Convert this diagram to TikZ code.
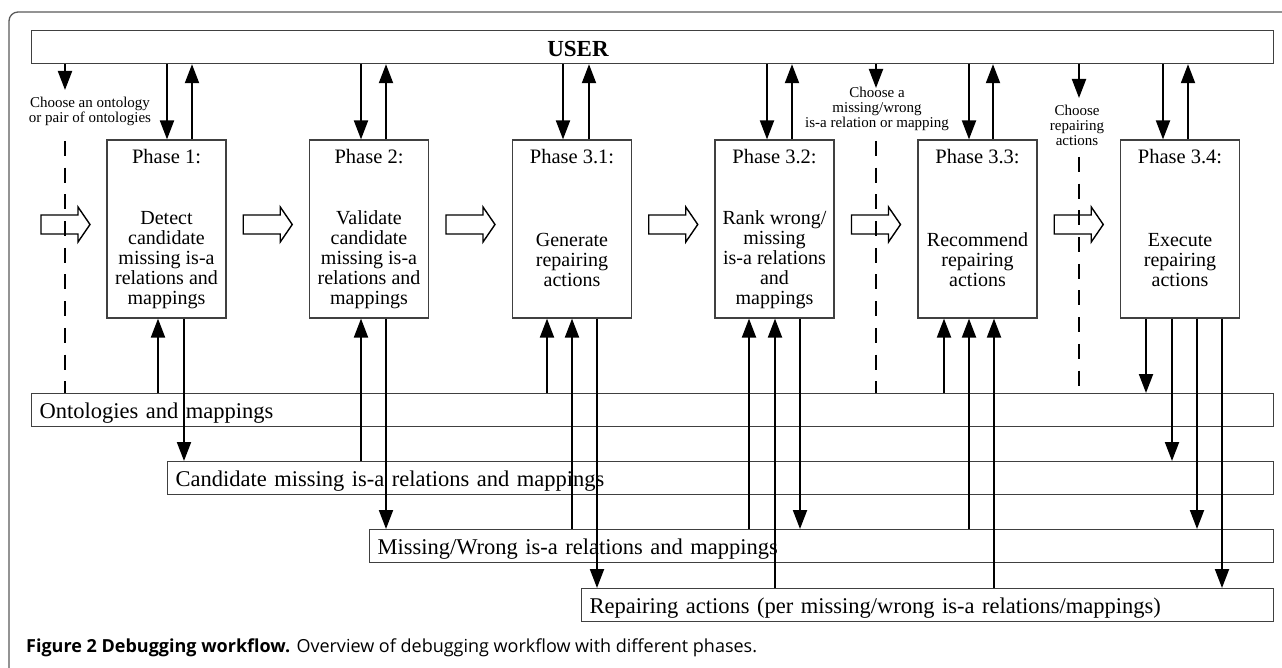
\documentclass[tikz,border=0pt]{standalone}
\usepackage{fontspec}
\setmainfont{Liberation Serif}
\newfontfamily\capfont{Open Sans}
\usetikzlibrary{calc}
\usetikzlibrary{arrows.meta}

\begin{document}
\begin{tikzpicture}[x=1pt, y=-1pt,
  arr/.style={line width=2pt, -{Triangle[length=19pt, width=14pt]}},
  phase/.style={draw=black!75, line width=1.2pt, minimum width=119pt, minimum height=178pt, inner sep=0pt},
  store/.style={draw=black!75, line width=1.2pt, anchor=north west, minimum height=33pt, inner xsep=8pt, inner ysep=0pt, align=left, text height=20pt, text depth=4pt, font=\fontsize{22.5}{26}\selectfont},
  hd/.style={anchor=base, font=\fontsize{20.5}{20}\selectfont},
  body/.style={align=center, font=\fontsize{20}{20}\selectfont},
  choose/.style={align=center, font=\fontsize{15}{15}\selectfont, inner sep=0pt},
  gap/.style={line width=1.5pt, dash pattern=on 15pt off 11.7pt},
  hollow/.pic={\draw[line width=1.4pt] (-24.5,-9.5) -- (12.5,-9.5) -- (12.5,-17.5) -- (24.5,0) -- (12.5,17.5) -- (12.5,9.5) -- (-24.5,9.5) -- cycle;}]
\useasboundingbox (0,0) rectangle (1282,668);
\clip (0,0) rectangle (1282,668);
\draw[black!65, line width=1.3pt, rounded corners=9pt] (9,700) -- (9,12) -- (1300,12);

\node[store, text width=1226pt] (user) at (31,30) {};
\node[font=\bfseries\fontsize{23}{23}\selectfont] (usert) at (578,49.5) {USER};

\node[store, text width=1226pt] (onto) at (31,393) {Ontologies and mappings};
\node[store, text width=1090pt] (cand) at (167,461) {Candidate missing is-a relations and mappings};
\node[store, text width=888pt] (miss) at (369,529) {Missing/Wrong is-a relations and mappings};
\node[store, text width=676pt] (rep) at (581,588) {Repairing actions (per missing/wrong is-a relations/mappings)};

\foreach \name/\cx/\ph/\txt in {p1/166.5/1/{Detect\\candidate\\missing is-a\\relations and\\mappings}, p2/369/2/{Validate\\candidate\\missing is-a\\relations and\\mappings}, p31/572/3.1/{Generate\\repairing\\actions}, p32/774.5/3.2/{Rank wrong/\\missing\\is-a relations\\and\\mappings}, p33/977.5/3.3/{Recommend\\repairing\\actions}, p34/1180/3.4/{Execute\\repairing\\actions}}
{
  \node[phase] (\name) at (\cx,229) {};
  \node[hd] (\name t) at ($(\name.north)+(0,24)$) {Phase \ph:};
  \node[body] (\name b) at ($(\name.center)+(0,31)$) {\txt};
}

\pic at (65.5,224.5) {hollow};
\foreach \a/\b in {p1/p2, p2/p31, p31/p32, p32/p33, p33/p34} \pic at ($(\a.east)!0.5!(\b.west)+(0,-4.5)$) {hollow};

\foreach \x/\p in {167/p1, 361/p2, 563/p31, 767/p32, 969/p33, 1163/p34} \draw[arr] (\x,0 |- user.south) -- (\x,0 |- \p.north);
\foreach \x/\p in {192/p1, 386/p2, 589/p31, 792/p32, 993/p33, 1188/p34} \draw[arr] (\x,0 |- \p.north) -- (\x,0 |- user.south);

\foreach \x/\s/\p in {158/onto/p1, 361/cand/p2, 547/onto/p31, 572/miss/p31, 749/miss/p32, 775/rep/p32, 944/onto/p33, 969/miss/p33, 994/rep/p33} \draw[arr] (\x,0 |- \s.north) -- (\x,0 |- \p.south);
\foreach \x/\p/\s in {184/p1/cand, 386/p2/miss, 597/p31/rep, 800/p32/miss, 1146/p34/onto, 1172/p34/cand, 1197/p34/miss, 1222/p34/rep} \draw[arr] (\x,0 |- \p.south) -- (\x,0 |- \s.north);

\coordinate (c1) at (65,90);
\coordinate (c2) at (876,88);
\coordinate (c3) at (1079,98);
\foreach \c in {c1, c2, c3} \draw[arr] (\c |- user.south) -- (\c);
\node[choose] (ch1) at (90,111) {Choose an ontology\\or pair of ontologies};
\node[choose] (ch2) at (877,109) {Choose a\\missing/wrong\\is-a relation or mapping};
\node[choose] (ch3) at (1077,125) {Choose\\repairing\\actions};

\coordinate (d1) at (65,141);
\coordinate (d2) at (876,141);
\coordinate (d3) at (1079,157);
\coordinate (e3) at (1079,386);
\draw[gap] (d1) -- (d1 |- onto.north);
\draw[gap] (d2) -- (d2 |- onto.north);
\draw[gap] (d3) -- (e3);

\node[anchor=base west, inner sep=0pt, font=\capfont\fontsize{18}{18}\selectfont] (cap) at (26,652) {\textbf{Figure 2 Debugging workflow.} Overview of debugging workflow with different phases.};
\end{tikzpicture}
\end{document}
